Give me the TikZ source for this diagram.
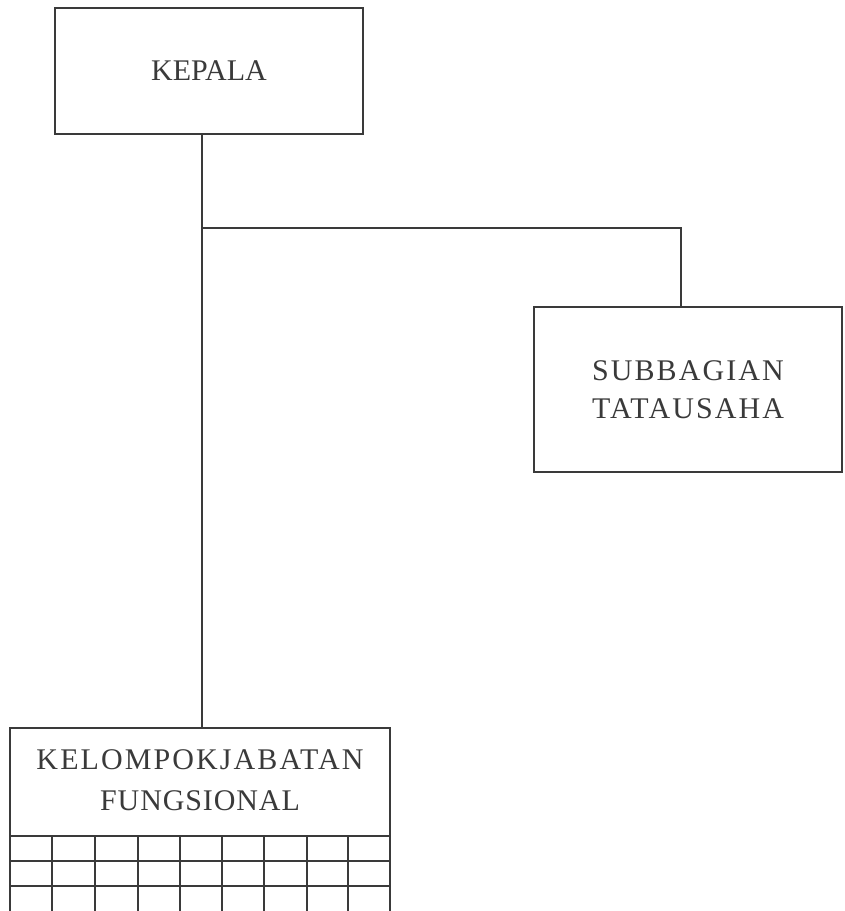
\documentclass[tikz,border=0pt]{standalone}
\usepackage{fontspec}
\setmainfont{Liberation Serif}
\newfontfamily\spaced[LetterSpace=7]{Liberation Serif}
\newfontfamily\spacedless[LetterSpace=3]{Liberation Serif}
\definecolor{ink}{HTML}{3A3A3A}
\begin{document}
\begin{tikzpicture}[x=1pt,y=-1pt,
  orgbox/.style={draw=ink,line width=2pt,rectangle,inner sep=0pt,align=center,text=ink,font=\fontsize{30}{38}\selectfont},
  link/.style={draw=ink,line width=2pt},
  gridline/.style={draw=ink,line width=2pt}]
\useasboundingbox (0,0) rectangle (845,911);
\node[orgbox,minimum width=308pt,minimum height=126pt] (kepala) at (209,71) {KEPALA};
\node[orgbox,minimum width=308pt,minimum height=165pt,font=\spaced\fontsize{30}{38}\selectfont] (sub) at (688,389.5) {SUBBAGIAN\\TATAUSAHA};
\node[orgbox,minimum width=380pt,minimum height=108pt,font=\spaced\fontsize{30}{40}\selectfont] (kjf) at (200,782) {\raisebox{5pt}{\begin{tabular}{@{}c@{}}KELOMPOKJABATAN\\[1pt]{\spacedless FUNGSIONAL}\end{tabular}}};
\coordinate (j) at (202,228);
\coordinate (jr) at (681,228);
\draw[link] (kepala.south -| j) -- (j) -- (jr) -- (sub.north -| jr);
\draw[link] (j) -- (kjf.north -| j);
% grid below the functional group box
\foreach \x in {10,52,95,138,180,222,264,307,348,390}
  \draw[gridline] (\x,836) -- (\x,911);
\foreach \y in {861,886}
  \draw[gridline] (10,\y) -- (390,\y);
\end{tikzpicture}
\end{document}
